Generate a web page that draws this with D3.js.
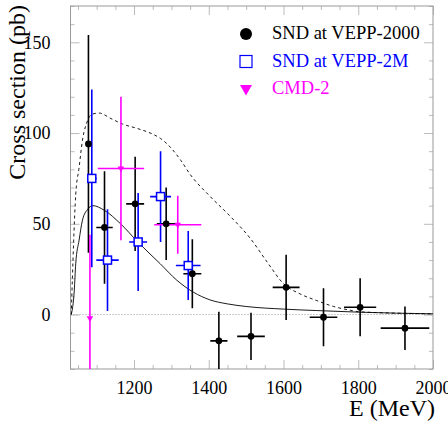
<!DOCTYPE html>
<html>
<head>
<meta charset="utf-8">
<script src="https://cdn.jsdelivr.net/npm/d3@7"></script>
<style>
  body { margin: 0; background: #fff; }
  text { font-family: "Liberation Serif", "Times New Roman", "DejaVu Serif", serif; }
</style>
</head>
<body>
<div id="chart"></div>
<script>
// SND at VEPP-2000
const sndE = [1078, 1121, 1203, 1286, 1356, 1427, 1513, 1607, 1707, 1805, 1925];
const sndSigma = [94, 48, 61, 50, 22.5, -14.5, -12, 15, -1.5, 4, -7.5];
const sndErr = [60, 31, 26, 20, 19, 16, 13, 18, 16, 16, 12];
const sndEErr = [0, 22, 24, 25, 24, 23, 37, 36, 37, 43, 65];

// SND at VEPP-2M
const vepp2mE = [1087, 1129, 1211, 1271, 1345];
const vepp2mSigma = [75, 30, 40, 65, 27];
const vepp2mErr = [49, 28, 27, 25, 19];
const vepp2mEErr = [13, 30, 24, 28, 33];

// CMD-2
const cmdE = [1082, 1165, 1317];
const cmdSigma = [-2, 80.5, 49.5];
const cmdErr = [46, 39.5, 16];
const cmdEErr = [0, 62, 63];

// model curves
const solidE = [1032, 1040, 1044, 1053, 1062, 1076, 1090, 1120, 1164, 1210, 1270, 1314, 1359, 1403, 1449, 1502, 1600, 1689, 1804, 2000];
const solidSigma = [0, 13, 28, 41, 52, 58, 60, 57.5, 50, 40, 28, 19, 12.3, 8.1, 5.9, 4.4, 3, 2.2, 1.3, 0.4];
const dashedE = [1032, 1044, 1053, 1062, 1076, 1089, 1107, 1138, 1169, 1209, 1249, 1271, 1298, 1325, 1351, 1404, 1458, 1511, 1556, 1600, 1644, 1689, 1733, 1778, 1804, 2000];
const dashedSigma = [0, 66, 81, 96, 107, 110.5, 111, 108, 105, 102.5, 99.5, 97, 92, 85, 77, 65, 54, 42, 29, 17, 11.4, 7.7, 4.5, 2.4, 1.5, 0.4];

const xMajor = [1200, 1400, 1600, 1800, 2000];
const yMajor = [0, 50, 100, 150];

const legendLabels = ["SND at VEPP-2000", "SND at VEPP-2M", "CMD-2"];
const legendColors = ["#000", "#0000ff", "#ff00ff"];

const W = 448, H = 424;
const margin = { top: 6, right: 15, bottom: 55, left: 70.5 };

const svg = d3.select("#chart").append("svg")
  .attr("width", W)
  .attr("height", H);

const x = d3.scaleLinear().domain([1030, 2000]).range([margin.left, W - margin.right]);
const y = d3.scaleLinear().domain([-30, 170]).range([H - margin.bottom, margin.top]);

svg.append("clipPath").attr("id", "clip")
  .append("rect")
  .attr("x", x(1030)).attr("y", y(170))
  .attr("width", x(2000) - x(1030)).attr("height", y(-30) - y(170));

const xMinor = d3.range(1050, 2000, 50).filter(v => !xMajor.includes(v));
const yMinor = d3.range(-30, 171, 10).filter(v => !yMajor.includes(v));

// ticks on all four sides, pointing inward
function ticks(axis, transform) {
  const g = svg.append("g").attr("transform", transform).call(axis);
  g.select(".domain").remove();
  g.selectAll("line").attr("stroke", "#bbb");
  return g;
}
ticks(d3.axisBottom(x).tickValues(xMinor).tickSize(-4).tickFormat(""), `translate(0,${y(-30)})`);
ticks(d3.axisTop(x).tickValues(xMinor).tickSize(-4).tickFormat(""), `translate(0,${y(170)})`);
ticks(d3.axisTop(x).tickValues(xMajor).tickSize(-9).tickFormat(""), `translate(0,${y(170)})`);
ticks(d3.axisLeft(y).tickValues(yMinor).tickSize(-4).tickFormat(""), `translate(${x(1030)},0)`);
ticks(d3.axisRight(y).tickValues(yMinor).tickSize(-4).tickFormat(""), `translate(${x(2000)},0)`);
ticks(d3.axisRight(y).tickValues(yMajor).tickSize(-9).tickFormat(""), `translate(${x(2000)},0)`);

const xAx = ticks(d3.axisBottom(x).tickValues(xMajor).tickSize(-9).tickPadding(12).tickFormat(d3.format("d")), `translate(0,${y(-30)})`);
xAx.selectAll("text").style("font-size", "18px").attr("fill", "#000");
const yAx = ticks(d3.axisLeft(y).tickValues(yMajor).tickSize(-9).tickPadding(20).tickFormat(d3.format("d")), `translate(${x(1030)},0)`);
yAx.selectAll("text").style("font-size", "18px").attr("fill", "#000");

// frame
svg.append("rect")
  .attr("x", x(1030)).attr("y", y(170))
  .attr("width", x(2000) - x(1030)).attr("height", y(-30) - y(170))
  .attr("fill", "none").attr("stroke", "#999").attr("stroke-width", 1);

// zero line
svg.append("line")
  .attr("x1", x(1030)).attr("x2", x(2000))
  .attr("y1", y(0)).attr("y2", y(0))
  .attr("stroke", "#999").attr("stroke-dasharray", "1,2");

const plot = svg.append("g").attr("clip-path", "url(#clip)");

const line = d3.line()
  .x(d => x(d[0]))
  .y(d => y(d[1]))
  .curve(d3.curveMonotoneX);

plot.append("path")
  .datum(d3.zip(dashedE, dashedSigma))
  .attr("d", line)
  .attr("fill", "none").attr("stroke", "#000").attr("stroke-width", 0.9)
  .attr("stroke-dasharray", "3,3");

plot.append("path")
  .datum(d3.zip(solidE, solidSigma))
  .attr("d", line)
  .attr("fill", "none").attr("stroke", "#000").attr("stroke-width", 0.9);

function errorBars(E, S, err, eErr, color) {
  const g = plot.append("g").attr("stroke", color).attr("stroke-width", 1.6);
  E.forEach((e, i) => {
    g.append("line")
      .attr("x1", x(e)).attr("x2", x(e))
      .attr("y1", y(S[i] - err[i])).attr("y2", y(S[i] + err[i]));
    if (eErr[i] > 0) {
      g.append("line")
        .attr("x1", x(e - eErr[i])).attr("x2", x(e + eErr[i]))
        .attr("y1", y(S[i])).attr("y2", y(S[i]));
    }
  });
}

errorBars(sndE, sndSigma, sndErr, sndEErr, legendColors[0]);
errorBars(vepp2mE, vepp2mSigma, vepp2mErr, vepp2mEErr, legendColors[1]);
errorBars(cmdE, cmdSigma, cmdErr, cmdEErr, legendColors[2]);

const tri = d3.symbol().type(d3.symbolTriangle);

plot.selectAll(".snd").data(sndE).enter().append("circle")
  .attr("cx", d => x(d))
  .attr("cy", (d, i) => y(sndSigma[i]))
  .attr("r", 3.4).attr("fill", "#000");

plot.selectAll(".v2m").data(vepp2mE).enter().append("rect")
  .attr("x", d => x(d) - 4)
  .attr("y", (d, i) => y(vepp2mSigma[i]) - 4)
  .attr("width", 8).attr("height", 8)
  .attr("fill", "#fff").attr("stroke", legendColors[1]).attr("stroke-width", 1.5);

plot.selectAll(".cmd").data(cmdE).enter().append("path")
  .attr("d", tri.size(18)())
  .attr("transform", (d, i) => `translate(${x(d)},${y(cmdSigma[i])}) rotate(180)`)
  .attr("fill", legendColors[2]);

// Handmade legend
const legY = [34, 61.5, 88.5];
svg.append("circle").attr("cx", 246).attr("cy", legY[0]).attr("r", 6).attr("fill", "#000");
svg.append("rect").attr("x", 240).attr("y", legY[1] - 6).attr("width", 12).attr("height", 12)
  .attr("fill", "#fff").attr("stroke", legendColors[1]).attr("stroke-width", 1.2);
svg.append("path").attr("d", tri.size(62)())
  .attr("transform", `translate(246,${legY[2]}) rotate(180)`)
  .attr("fill", legendColors[2]);
for (let i = 0; i < 3; i++) {
  svg.append("text")
    .attr("x", 272)
    .attr("y", legY[i] + 5)
    .text(legendLabels[i])
    .attr("fill", legendColors[i])
    .style("font-size", "18.5px");
}

// axis titles
svg.append("text")
  .attr("text-anchor", "end")
  .attr("x", 435)
  .attr("y", 416)
  .text("E (MeV)")
  .style("font-size", "24px");

svg.append("text")
  .attr("text-anchor", "end")
  .attr("transform", "translate(25,5) rotate(-90)")
  .text("Cross section (pb)")
  .style("font-size", "24px");
</script>
</body>
</html>
